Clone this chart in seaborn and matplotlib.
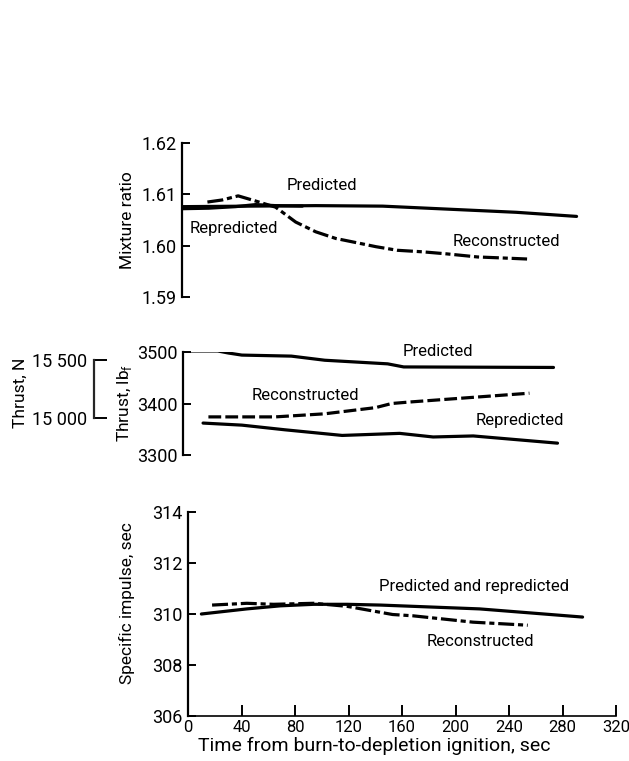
import matplotlib
matplotlib.use("Agg")
import matplotlib.pyplot as plt
import seaborn as sns
import pandas as pd

sns.set_style("white")
plt.rcParams['font.family'] = ['Roboto', 'DejaVu Sans']
plt.rcParams['mathtext.fontset'] = 'custom'
plt.rcParams['mathtext.rm'] = 'Roboto'

# ---------------- data ----------------
# Mixture ratio
mr_pred_t = [0, 50, 100, 150, 200, 250, 295]
mr_pred_v = [1.6076, 1.6077, 1.6078, 1.6077, 1.6071, 1.6065, 1.6057]
mr_repred_t = [0, 20, 40, 55, 70, 90]
mr_repred_v = [1.6072, 1.6073, 1.6076, 1.6080, 1.6078, 1.6077]
mr_recon_t = [19, 30, 42, 55, 70, 85, 100, 115, 132, 145, 161, 180, 198, 221, 240, 258]
mr_recon_v = [1.6085, 1.6089, 1.6097, 1.6087, 1.6075, 1.6046, 1.6027, 1.6014,
              1.6005, 1.5998, 1.5991, 1.5988, 1.5984, 1.5978, 1.5976, 1.5974]

# Thrust, lbf
th_pred_t = [0, 26, 34, 44, 81, 106, 153, 165, 277]
th_pred_v = [3502, 3502, 3498, 3494, 3492, 3484, 3477, 3471, 3470]
th_repred_t = [15, 44, 76, 119, 162, 187, 217, 280]
th_repred_v = [3362, 3358, 3349, 3338, 3342, 3335, 3337, 3323]
th_recon_t = [19, 69, 106, 144, 156, 170, 217, 259]
th_recon_v = [3374, 3374, 3380, 3392, 3400, 3403, 3412, 3420]

# Specific impulse, sec
isp_pred_t = [10, 44, 69, 94, 119, 144, 218, 295]
isp_pred_v = [310.0, 310.2, 310.32, 310.38, 310.38, 310.35, 310.2, 309.88]
isp_recon_t = [18, 44, 64, 94, 119, 153, 168, 213, 254]
isp_recon_v = [310.35, 310.42, 310.38, 310.42, 310.3, 309.98, 309.93, 309.68, 309.56]

x_ticks = [0, 40, 80, 120, 160, 200, 240, 280, 320]
mr_ticks = [1.59, 1.60, 1.61, 1.62]
th_ticks = [3300, 3400, 3500]
thN_ticks = [15000, 15500]
thN_labels = ["15 000", "15 500"]
isp_ticks = [306, 308, 310, 312, 314]

LBF_TO_N = 4.44822

# ---------------- layout ----------------
W, H = 629, 761
fig = plt.figure(figsize=(W / 100, H / 100), dpi=100)

def px_axes(left, top, right, bottom):
    return fig.add_axes([left / W, 1 - bottom / H, (right - left) / W, (bottom - top) / H])

ax1 = px_axes(182, 143, 182 + 428, 297)
ax2 = px_axes(183, 352, 183 + 428, 455)
ax3 = px_axes(188, 512, 188 + 428, 716)

LW = 2.3
FS = 12
TFS = 13
dashdot = (0, (5.0, 1.2, 1.6, 1.2))
dashed = (0, (4.0, 1.3))

def line(ax, t, v, ls='-', lw=LW):
    df = pd.DataFrame({'t': t, 'v': v})
    sns.lineplot(data=df, x='t', y='v', ax=ax, color='black', lw=lw,
                 linestyle=ls, errorbar=None, sort=False)

line(ax1, mr_pred_t, mr_pred_v)
line(ax1, mr_repred_t, mr_repred_v)
line(ax1, mr_recon_t, mr_recon_v, ls=dashdot)

line(ax2, th_pred_t, th_pred_v)
line(ax2, th_repred_t, th_repred_v)
line(ax2, th_recon_t, th_recon_v, ls=dashed)

line(ax3, isp_pred_t, isp_pred_v)
line(ax3, isp_recon_t, isp_recon_v, ls=dashdot)

for ax in (ax1, ax2, ax3):
    ax.set_xlim(0, 320)
    ax.set_xlabel('')
    ax.set_ylabel('')
    for s in ('top', 'right'):
        ax.spines[s].set_visible(False)
    ax.spines['left'].set_linewidth(1.6)
    ax.spines['left'].set_color('black')
    ax.tick_params(axis='y', direction='in', length=6, width=1.4, colors='black',
                   labelsize=TFS, pad=4, left=True)

ax1.set_ylim(1.59, 1.62)
ax1.set_yticks(mr_ticks)
ax1.set_yticklabels([f"{v:.2f}" for v in mr_ticks])
ax2.set_ylim(3300, 3500)
ax2.set_yticks(th_ticks)
ax2.set_yticklabels([str(v) for v in th_ticks])
ax3.set_ylim(306, 314)
ax3.set_yticks(isp_ticks)
ax3.set_yticklabels([str(v) for v in isp_ticks])

for ax in (ax1, ax2):
    ax.spines['bottom'].set_visible(False)
    ax.set_xticks([])

ax3.spines['bottom'].set_linewidth(1.2)
ax3.spines['bottom'].set_color('black')
ax3.set_xticks(x_ticks)
ax3.set_xticklabels([str(v) for v in x_ticks])
ax3.tick_params(axis='x', direction='in', length=8, width=1.4, colors='black',
                labelsize=12, pad=3, bottom=True)

# Secondary thrust scale in newtons
axN = px_axes(94, 352, 110, 455)
axN.patch.set_visible(False)
axN.set_ylim(3300 * LBF_TO_N, 3500 * LBF_TO_N)
axN.set_xticks([])
for s in ('top', 'right', 'bottom'):
    axN.spines[s].set_visible(False)
axN.spines['left'].set_bounds(thN_ticks[0], thN_ticks[1])
axN.spines['left'].set_linewidth(1.6)
axN.set_yticks(thN_ticks)
axN.set_yticklabels(thN_labels)
axN.tick_params(axis='y', direction='in', length=9, width=1.4, colors='black',
                labelsize=TFS, pad=5, left=True)

def ftext(x, y, s, rot=0, size=FS, **kw):
    fig.text(x / W, 1 - y / H, s, ha='center', va='center', rotation=rot,
             fontsize=size, color='black', **kw)

# curve labels
ftext(322, 185, "Predicted")
ftext(234, 229, "Repredicted")
ftext(506, 241, "Reconstructed")
ftext(438, 351, "Predicted")
ftext(305, 396, "Reconstructed")
ftext(520, 421, "Repredicted")
ftext(474, 586, "Predicted and repredicted")
ftext(480, 641, "Reconstructed")

# axis labels
ftext(128, 220, "Mixture ratio", rot=90, size=12.5)
ftext(125, 403, "Thrust, lb$_\\mathregular{f}$", rot=90, size=12.5)
ftext(20, 393, "Thrust, N", rot=90, size=12.5)
ftext(127, 603, "Specific impulse, sec", rot=90, size=12.5)
ftext(374, 746, "Time from burn-to-depletion ignition, sec", size=14)

fig.savefig("out.png", dpi=100)
